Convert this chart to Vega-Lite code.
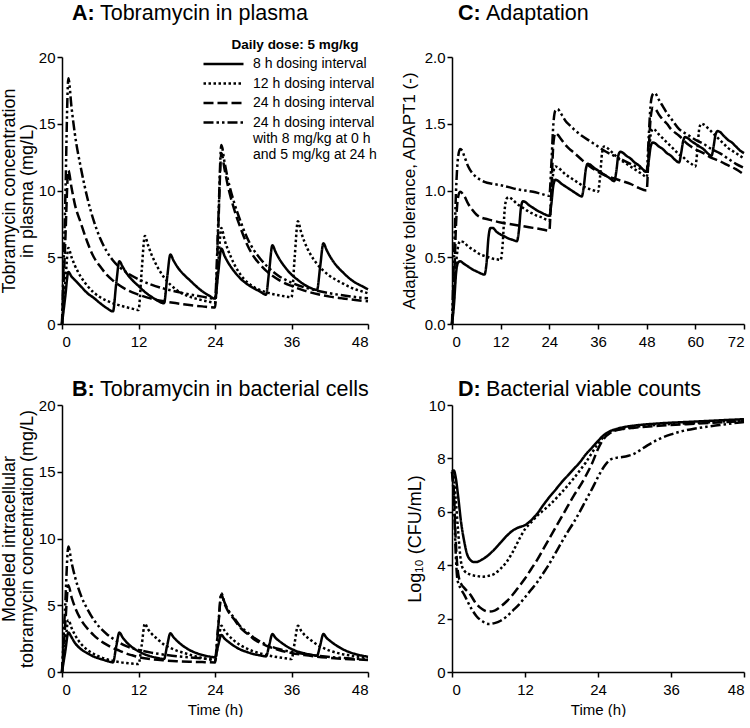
{
"$schema":"https://vega.github.io/schema/vega-lite/v6.json",
"padding":{"left":0,"top":2,"right":0,"bottom":0},
"background":"white",
"columns":2,
"align":"each",
"spacing":{"row":29,"column":23},
"resolve":{"legend":{"strokeDash":"independent"}},
"config":{
 "view":{"stroke":null},
 "font":"Liberation Sans",
 "axis":{"domainColor":"black","tickColor":"black","labelColor":"black","titleColor":"black","grid":false,"labelFont":"Liberation Sans","labelFontSize":15,"titleFont":"Liberation Sans","titleFontWeight":"normal","titleFontSize":18,"titleLineHeight":18,"tickSize":5,"domainWidth":1.5,"tickWidth":1.5,"labelPadding":2,"titlePadding":2},
 "axisX":{"titleFontSize":15,"titlePadding":5,"labelPadding":5},
 "title":{"font":"Liberation Sans","fontSize":21.5,"fontWeight":"bold","color":"black","subtitleColor":"black","subtitleFont":"Liberation Sans","subtitleFontSize":21.5,"subtitleFontWeight":"normal","anchor":"start","frame":"group","subtitlePadding":-21.5},
 "line":{"stroke":"black","strokeWidth":2.5,"interpolate":"monotone"}
},
"datasets":{
"plasma":[
{"s":"q8h","t":0,"v":0},{"s":"q8h","t":0.5,"v":2},{"s":"q8h","t":1,"v":3.9},{"s":"q8h","t":1.5,"v":3.55},{"s":"q8h","t":2,"v":3.3},{"s":"q8h","t":3,"v":2.8},{"s":"q8h","t":4,"v":2.3},{"s":"q8h","t":5,"v":1.95},{"s":"q8h","t":6,"v":1.55},{"s":"q8h","t":7,"v":1.2},{"s":"q8h","t":8,"v":0.95},{"s":"q8h","t":8.5,"v":3},{"s":"q8h","t":9,"v":4.7},{"s":"q8h","t":9.5,"v":4.3},{"s":"q8h","t":10,"v":3.9},{"s":"q8h","t":11,"v":3.3},{"s":"q8h","t":12,"v":2.85},{"s":"q8h","t":13,"v":2.4},{"s":"q8h","t":14,"v":2.05},{"s":"q8h","t":15,"v":1.75},{"s":"q8h","t":16,"v":1.55},{"s":"q8h","t":16.5,"v":3.5},{"s":"q8h","t":17,"v":5.2},{"s":"q8h","t":17.5,"v":4.75},{"s":"q8h","t":18,"v":4.35},{"s":"q8h","t":19,"v":3.75},{"s":"q8h","t":20,"v":3.3},{"s":"q8h","t":21,"v":2.85},{"s":"q8h","t":22,"v":2.45},{"s":"q8h","t":23,"v":2.15},{"s":"q8h","t":24,"v":1.9},{"s":"q8h","t":24.5,"v":3.8},{"s":"q8h","t":25,"v":5.65},{"s":"q8h","t":25.5,"v":5.1},{"s":"q8h","t":26,"v":4.65},{"s":"q8h","t":27,"v":3.95},{"s":"q8h","t":28,"v":3.4},{"s":"q8h","t":29,"v":3.0},{"s":"q8h","t":30,"v":2.7},{"s":"q8h","t":31,"v":2.45},{"s":"q8h","t":32,"v":2.2},{"s":"q8h","t":32.5,"v":4},{"s":"q8h","t":33,"v":5.9},{"s":"q8h","t":33.5,"v":5.4},{"s":"q8h","t":34,"v":4.95},{"s":"q8h","t":35,"v":4.25},{"s":"q8h","t":36,"v":3.7},{"s":"q8h","t":37,"v":3.3},{"s":"q8h","t":38,"v":2.95},{"s":"q8h","t":39,"v":2.7},{"s":"q8h","t":40,"v":2.55},{"s":"q8h","t":40.5,"v":4.3},{"s":"q8h","t":41,"v":6.05},{"s":"q8h","t":41.5,"v":5.55},{"s":"q8h","t":42,"v":5.1},{"s":"q8h","t":43,"v":4.4},{"s":"q8h","t":44,"v":3.9},{"s":"q8h","t":45,"v":3.45},{"s":"q8h","t":46,"v":3.1},{"s":"q8h","t":47,"v":2.85},{"s":"q8h","t":48,"v":2.6},
{"s":"q12h","t":0,"v":0},{"s":"q12h","t":0.5,"v":3},{"s":"q12h","t":1,"v":5.7},{"s":"q12h","t":1.5,"v":5.0},{"s":"q12h","t":2,"v":4.4},{"s":"q12h","t":3,"v":3.5},{"s":"q12h","t":4,"v":2.85},{"s":"q12h","t":5,"v":2.35},{"s":"q12h","t":6,"v":2.0},{"s":"q12h","t":7,"v":1.75},{"s":"q12h","t":8,"v":1.55},{"s":"q12h","t":9,"v":1.4},{"s":"q12h","t":10,"v":1.27},{"s":"q12h","t":11,"v":1.15},{"s":"q12h","t":12,"v":1.05},{"s":"q12h","t":12.5,"v":4},{"s":"q12h","t":13,"v":6.6},{"s":"q12h","t":13.5,"v":5.9},{"s":"q12h","t":14,"v":5.25},{"s":"q12h","t":15,"v":4.25},{"s":"q12h","t":16,"v":3.5},{"s":"q12h","t":17,"v":2.95},{"s":"q12h","t":18,"v":2.55},{"s":"q12h","t":19,"v":2.25},{"s":"q12h","t":20,"v":2.05},{"s":"q12h","t":21,"v":1.9},{"s":"q12h","t":22,"v":1.78},{"s":"q12h","t":23,"v":1.68},{"s":"q12h","t":24,"v":1.6},{"s":"q12h","t":24.5,"v":4.5},{"s":"q12h","t":25,"v":7.2},{"s":"q12h","t":25.5,"v":6.3},{"s":"q12h","t":26,"v":5.6},{"s":"q12h","t":27,"v":4.5},{"s":"q12h","t":28,"v":3.7},{"s":"q12h","t":29,"v":3.15},{"s":"q12h","t":30,"v":2.8},{"s":"q12h","t":31,"v":2.55},{"s":"q12h","t":32,"v":2.38},{"s":"q12h","t":33,"v":2.25},{"s":"q12h","t":34,"v":2.15},{"s":"q12h","t":35,"v":2.07},{"s":"q12h","t":36,"v":2.0},{"s":"q12h","t":36.5,"v":5},{"s":"q12h","t":37,"v":7.7},{"s":"q12h","t":37.5,"v":6.9},{"s":"q12h","t":38,"v":6.2},{"s":"q12h","t":39,"v":5.2},{"s":"q12h","t":40,"v":4.5},{"s":"q12h","t":41,"v":4.0},{"s":"q12h","t":42,"v":3.6},{"s":"q12h","t":43,"v":3.3},{"s":"q12h","t":44,"v":3.05},{"s":"q12h","t":45,"v":2.8},{"s":"q12h","t":46,"v":2.6},{"s":"q12h","t":47,"v":2.45},{"s":"q12h","t":48,"v":2.3},
{"s":"q24h","t":0,"v":0},{"s":"q24h","t":0.5,"v":6},{"s":"q24h","t":1,"v":11.5},{"s":"q24h","t":1.5,"v":10.2},{"s":"q24h","t":2,"v":9.0},{"s":"q24h","t":3,"v":7.5},{"s":"q24h","t":4,"v":6.1},{"s":"q24h","t":5,"v":5.0},{"s":"q24h","t":6,"v":4.3},{"s":"q24h","t":7,"v":3.7},{"s":"q24h","t":8,"v":3.25},{"s":"q24h","t":10,"v":2.6},{"s":"q24h","t":12,"v":2.2},{"s":"q24h","t":14,"v":1.9},{"s":"q24h","t":16,"v":1.7},{"s":"q24h","t":18,"v":1.55},{"s":"q24h","t":20,"v":1.42},{"s":"q24h","t":22,"v":1.32},{"s":"q24h","t":24,"v":1.24},{"s":"q24h","t":24.5,"v":7},{"s":"q24h","t":25,"v":12.8},{"s":"q24h","t":25.5,"v":11.6},{"s":"q24h","t":26,"v":10.4},{"s":"q24h","t":27,"v":8.6},{"s":"q24h","t":28,"v":7.2},{"s":"q24h","t":29,"v":6.0},{"s":"q24h","t":30,"v":5.1},{"s":"q24h","t":31,"v":4.5},{"s":"q24h","t":32,"v":4.0},{"s":"q24h","t":34,"v":3.3},{"s":"q24h","t":36,"v":2.85},{"s":"q24h","t":38,"v":2.5},{"s":"q24h","t":40,"v":2.25},{"s":"q24h","t":42,"v":2.05},{"s":"q24h","t":44,"v":1.92},{"s":"q24h","t":46,"v":1.8},{"s":"q24h","t":48,"v":1.7},
{"s":"q24h85","t":0,"v":0},{"s":"q24h85","t":0.5,"v":9},{"s":"q24h85","t":1,"v":18.4},{"s":"q24h85","t":1.5,"v":16.2},{"s":"q24h85","t":2,"v":14.3},{"s":"q24h85","t":3,"v":11.6},{"s":"q24h85","t":4,"v":9.4},{"s":"q24h85","t":5,"v":7.7},{"s":"q24h85","t":6,"v":6.4},{"s":"q24h85","t":7,"v":5.45},{"s":"q24h85","t":8,"v":4.75},{"s":"q24h85","t":10,"v":3.9},{"s":"q24h85","t":12,"v":3.35},{"s":"q24h85","t":14,"v":2.95},{"s":"q24h85","t":16,"v":2.65},{"s":"q24h85","t":18,"v":2.42},{"s":"q24h85","t":20,"v":2.22},{"s":"q24h85","t":22,"v":2.05},{"s":"q24h85","t":24,"v":1.9},{"s":"q24h85","t":24.5,"v":7.5},{"s":"q24h85","t":25,"v":13.4},{"s":"q24h85","t":25.5,"v":12.1},{"s":"q24h85","t":26,"v":10.9},{"s":"q24h85","t":27,"v":9.1},{"s":"q24h85","t":28,"v":7.7},{"s":"q24h85","t":29,"v":6.5},{"s":"q24h85","t":30,"v":5.6},{"s":"q24h85","t":31,"v":4.95},{"s":"q24h85","t":32,"v":4.4},{"s":"q24h85","t":34,"v":3.6},{"s":"q24h85","t":36,"v":3.1},{"s":"q24h85","t":38,"v":2.75},{"s":"q24h85","t":40,"v":2.5},{"s":"q24h85","t":42,"v":2.3},{"s":"q24h85","t":44,"v":2.15},{"s":"q24h85","t":46,"v":2.02},{"s":"q24h85","t":48,"v":1.92}
],
"cells":[
{"s":"q8h","t":0,"v":0},{"s":"q8h","t":0.5,"v":1.5},{"s":"q8h","t":1,"v":2.95},{"s":"q8h","t":1.5,"v":2.6},{"s":"q8h","t":2,"v":2.2},{"s":"q8h","t":3,"v":1.7},{"s":"q8h","t":4,"v":1.4},{"s":"q8h","t":5,"v":1.15},{"s":"q8h","t":6,"v":0.98},{"s":"q8h","t":7,"v":0.84},{"s":"q8h","t":8,"v":0.72},{"s":"q8h","t":8.5,"v":1.9},{"s":"q8h","t":9,"v":2.95},{"s":"q8h","t":9.5,"v":2.6},{"s":"q8h","t":10,"v":2.3},{"s":"q8h","t":11,"v":1.85},{"s":"q8h","t":12,"v":1.55},{"s":"q8h","t":13,"v":1.32},{"s":"q8h","t":14,"v":1.16},{"s":"q8h","t":15,"v":1.05},{"s":"q8h","t":16,"v":0.97},{"s":"q8h","t":16.5,"v":2.0},{"s":"q8h","t":17,"v":2.9},{"s":"q8h","t":17.5,"v":2.6},{"s":"q8h","t":18,"v":2.35},{"s":"q8h","t":19,"v":1.95},{"s":"q8h","t":20,"v":1.65},{"s":"q8h","t":21,"v":1.43},{"s":"q8h","t":22,"v":1.28},{"s":"q8h","t":23,"v":1.17},{"s":"q8h","t":24,"v":1.1},{"s":"q8h","t":24.5,"v":2.0},{"s":"q8h","t":25,"v":2.78},{"s":"q8h","t":25.5,"v":2.5},{"s":"q8h","t":26,"v":2.3},{"s":"q8h","t":27,"v":1.95},{"s":"q8h","t":28,"v":1.68},{"s":"q8h","t":29,"v":1.5},{"s":"q8h","t":30,"v":1.35},{"s":"q8h","t":31,"v":1.25},{"s":"q8h","t":32,"v":1.17},{"s":"q8h","t":32.5,"v":2.0},{"s":"q8h","t":33,"v":2.84},{"s":"q8h","t":33.5,"v":2.55},{"s":"q8h","t":34,"v":2.35},{"s":"q8h","t":35,"v":2.0},{"s":"q8h","t":36,"v":1.72},{"s":"q8h","t":37,"v":1.53},{"s":"q8h","t":38,"v":1.4},{"s":"q8h","t":39,"v":1.3},{"s":"q8h","t":40,"v":1.22},{"s":"q8h","t":40.5,"v":2.0},{"s":"q8h","t":41,"v":2.84},{"s":"q8h","t":41.5,"v":2.55},{"s":"q8h","t":42,"v":2.35},{"s":"q8h","t":43,"v":2.0},{"s":"q8h","t":44,"v":1.72},{"s":"q8h","t":45,"v":1.5},{"s":"q8h","t":46,"v":1.35},{"s":"q8h","t":47,"v":1.23},{"s":"q8h","t":48,"v":1.15},
{"s":"q12h","t":0,"v":0},{"s":"q12h","t":0.5,"v":2},{"s":"q12h","t":1,"v":3.9},{"s":"q12h","t":1.5,"v":3.3},{"s":"q12h","t":2,"v":2.8},{"s":"q12h","t":3,"v":2.1},{"s":"q12h","t":4,"v":1.65},{"s":"q12h","t":5,"v":1.35},{"s":"q12h","t":6,"v":1.12},{"s":"q12h","t":7,"v":0.95},{"s":"q12h","t":8,"v":0.83},{"s":"q12h","t":9,"v":0.74},{"s":"q12h","t":10,"v":0.68},{"s":"q12h","t":11,"v":0.63},{"s":"q12h","t":12,"v":0.6},{"s":"q12h","t":12.5,"v":2},{"s":"q12h","t":13,"v":3.63},{"s":"q12h","t":13.5,"v":3.2},{"s":"q12h","t":14,"v":2.9},{"s":"q12h","t":15,"v":2.45},{"s":"q12h","t":16,"v":2.05},{"s":"q12h","t":17,"v":1.8},{"s":"q12h","t":18,"v":1.6},{"s":"q12h","t":19,"v":1.45},{"s":"q12h","t":20,"v":1.3},{"s":"q12h","t":21,"v":1.17},{"s":"q12h","t":22,"v":1.05},{"s":"q12h","t":23,"v":0.95},{"s":"q12h","t":24,"v":0.88},{"s":"q12h","t":24.5,"v":2.2},{"s":"q12h","t":25,"v":3.46},{"s":"q12h","t":25.5,"v":3.1},{"s":"q12h","t":26,"v":2.8},{"s":"q12h","t":27,"v":2.35},{"s":"q12h","t":28,"v":2.0},{"s":"q12h","t":29,"v":1.75},{"s":"q12h","t":30,"v":1.55},{"s":"q12h","t":31,"v":1.4},{"s":"q12h","t":32,"v":1.28},{"s":"q12h","t":33,"v":1.18},{"s":"q12h","t":34,"v":1.1},{"s":"q12h","t":35,"v":1.03},{"s":"q12h","t":36,"v":0.97},{"s":"q12h","t":36.5,"v":2.2},{"s":"q12h","t":37,"v":3.46},{"s":"q12h","t":37.5,"v":3.1},{"s":"q12h","t":38,"v":2.8},{"s":"q12h","t":39,"v":2.4},{"s":"q12h","t":40,"v":2.05},{"s":"q12h","t":41,"v":1.8},{"s":"q12h","t":42,"v":1.6},{"s":"q12h","t":43,"v":1.45},{"s":"q12h","t":44,"v":1.33},{"s":"q12h","t":45,"v":1.25},{"s":"q12h","t":46,"v":1.18},{"s":"q12h","t":47,"v":1.13},{"s":"q12h","t":48,"v":1.1},
{"s":"q24h","t":0,"v":0},{"s":"q24h","t":0.5,"v":3.5},{"s":"q24h","t":1,"v":6.5},{"s":"q24h","t":1.5,"v":5.6},{"s":"q24h","t":2,"v":4.9},{"s":"q24h","t":3,"v":3.9},{"s":"q24h","t":4,"v":3.25},{"s":"q24h","t":5,"v":2.75},{"s":"q24h","t":6,"v":2.35},{"s":"q24h","t":7,"v":2.05},{"s":"q24h","t":8,"v":1.8},{"s":"q24h","t":9,"v":1.6},{"s":"q24h","t":10,"v":1.4},{"s":"q24h","t":11,"v":1.25},{"s":"q24h","t":12,"v":1.12},{"s":"q24h","t":14,"v":0.96},{"s":"q24h","t":16,"v":0.87},{"s":"q24h","t":18,"v":0.81},{"s":"q24h","t":20,"v":0.77},{"s":"q24h","t":22,"v":0.74},{"s":"q24h","t":24,"v":0.72},{"s":"q24h","t":24.5,"v":3.3},{"s":"q24h","t":25,"v":5.8},{"s":"q24h","t":25.5,"v":5.1},{"s":"q24h","t":26,"v":4.6},{"s":"q24h","t":27,"v":3.95},{"s":"q24h","t":28,"v":3.3},{"s":"q24h","t":29,"v":2.9},{"s":"q24h","t":30,"v":2.5},{"s":"q24h","t":31,"v":2.2},{"s":"q24h","t":32,"v":1.98},{"s":"q24h","t":33,"v":1.8},{"s":"q24h","t":34,"v":1.65},{"s":"q24h","t":36,"v":1.42},{"s":"q24h","t":38,"v":1.27},{"s":"q24h","t":40,"v":1.15},{"s":"q24h","t":42,"v":1.06},{"s":"q24h","t":44,"v":0.99},{"s":"q24h","t":46,"v":0.94},{"s":"q24h","t":48,"v":0.9},
{"s":"q24h85","t":0,"v":0},{"s":"q24h85","t":0.5,"v":5},{"s":"q24h85","t":1,"v":9.4},{"s":"q24h85","t":1.5,"v":8.2},{"s":"q24h85","t":2,"v":7.2},{"s":"q24h85","t":3,"v":5.7},{"s":"q24h85","t":4,"v":4.7},{"s":"q24h85","t":5,"v":3.9},{"s":"q24h85","t":6,"v":3.3},{"s":"q24h85","t":7,"v":2.85},{"s":"q24h85","t":8,"v":2.5},{"s":"q24h85","t":9,"v":2.2},{"s":"q24h85","t":10,"v":1.95},{"s":"q24h85","t":11,"v":1.78},{"s":"q24h85","t":12,"v":1.65},{"s":"q24h85","t":14,"v":1.45},{"s":"q24h85","t":16,"v":1.3},{"s":"q24h85","t":18,"v":1.18},{"s":"q24h85","t":20,"v":1.1},{"s":"q24h85","t":22,"v":1.02},{"s":"q24h85","t":24,"v":0.97},{"s":"q24h85","t":24.5,"v":3.4},{"s":"q24h85","t":25,"v":5.9},{"s":"q24h85","t":25.5,"v":5.2},{"s":"q24h85","t":26,"v":4.7},{"s":"q24h85","t":27,"v":4.05},{"s":"q24h85","t":28,"v":3.4},{"s":"q24h85","t":29,"v":3.0},{"s":"q24h85","t":30,"v":2.6},{"s":"q24h85","t":31,"v":2.3},{"s":"q24h85","t":32,"v":2.06},{"s":"q24h85","t":33,"v":1.88},{"s":"q24h85","t":34,"v":1.73},{"s":"q24h85","t":36,"v":1.5},{"s":"q24h85","t":38,"v":1.34},{"s":"q24h85","t":40,"v":1.22},{"s":"q24h85","t":42,"v":1.12},{"s":"q24h85","t":44,"v":1.05},{"s":"q24h85","t":46,"v":0.99},{"s":"q24h85","t":48,"v":0.95}
],
"adapt":[
{"s":"q8h","t":0,"v":0},{"s":"q8h","t":0.5,"v":0.15},{"s":"q8h","t":1,"v":0.38},{"s":"q8h","t":1.5,"v":0.46},{"s":"q8h","t":2,"v":0.47},{"s":"q8h","t":3,"v":0.45},{"s":"q8h","t":4,"v":0.43},{"s":"q8h","t":5,"v":0.41},{"s":"q8h","t":6,"v":0.395},{"s":"q8h","t":7,"v":0.38},{"s":"q8h","t":8,"v":0.37},{"s":"q8h","t":8.5,"v":0.45},{"s":"q8h","t":9,"v":0.65},{"s":"q8h","t":9.5,"v":0.72},{"s":"q8h","t":10,"v":0.72},{"s":"q8h","t":11,"v":0.69},{"s":"q8h","t":12,"v":0.67},{"s":"q8h","t":13,"v":0.655},{"s":"q8h","t":14,"v":0.64},{"s":"q8h","t":15,"v":0.63},{"s":"q8h","t":16,"v":0.62},{"s":"q8h","t":16.5,"v":0.7},{"s":"q8h","t":17,"v":0.87},{"s":"q8h","t":17.5,"v":0.92},{"s":"q8h","t":18,"v":0.915},{"s":"q8h","t":19,"v":0.89},{"s":"q8h","t":20,"v":0.87},{"s":"q8h","t":21,"v":0.85},{"s":"q8h","t":22,"v":0.835},{"s":"q8h","t":23,"v":0.82},{"s":"q8h","t":24,"v":0.81},{"s":"q8h","t":24.5,"v":0.9},{"s":"q8h","t":25,"v":1.04},{"s":"q8h","t":25.5,"v":1.08},{"s":"q8h","t":26,"v":1.075},{"s":"q8h","t":27,"v":1.05},{"s":"q8h","t":28,"v":1.03},{"s":"q8h","t":29,"v":1.01},{"s":"q8h","t":30,"v":0.99},{"s":"q8h","t":31,"v":0.97},{"s":"q8h","t":32,"v":0.955},{"s":"q8h","t":32.5,"v":1.03},{"s":"q8h","t":33,"v":1.16},{"s":"q8h","t":33.5,"v":1.2},{"s":"q8h","t":34,"v":1.195},{"s":"q8h","t":35,"v":1.17},{"s":"q8h","t":36,"v":1.15},{"s":"q8h","t":37,"v":1.13},{"s":"q8h","t":38,"v":1.11},{"s":"q8h","t":39,"v":1.09},{"s":"q8h","t":40,"v":1.07},{"s":"q8h","t":40.5,"v":1.14},{"s":"q8h","t":41,"v":1.26},{"s":"q8h","t":41.5,"v":1.29},{"s":"q8h","t":42,"v":1.285},{"s":"q8h","t":43,"v":1.26},{"s":"q8h","t":44,"v":1.24},{"s":"q8h","t":45,"v":1.21},{"s":"q8h","t":46,"v":1.19},{"s":"q8h","t":47,"v":1.16},{"s":"q8h","t":48,"v":1.14},{"s":"q8h","t":48.5,"v":1.22},{"s":"q8h","t":49,"v":1.33},{"s":"q8h","t":49.5,"v":1.36},{"s":"q8h","t":50,"v":1.355},{"s":"q8h","t":51,"v":1.33},{"s":"q8h","t":52,"v":1.31},{"s":"q8h","t":53,"v":1.28},{"s":"q8h","t":54,"v":1.26},{"s":"q8h","t":55,"v":1.23},{"s":"q8h","t":56,"v":1.21},{"s":"q8h","t":56.5,"v":1.28},{"s":"q8h","t":57,"v":1.37},{"s":"q8h","t":57.5,"v":1.4},{"s":"q8h","t":58,"v":1.395},{"s":"q8h","t":59,"v":1.37},{"s":"q8h","t":60,"v":1.35},{"s":"q8h","t":61,"v":1.33},{"s":"q8h","t":62,"v":1.31},{"s":"q8h","t":63,"v":1.28},{"s":"q8h","t":64,"v":1.26},{"s":"q8h","t":64.5,"v":1.33},{"s":"q8h","t":65,"v":1.42},{"s":"q8h","t":65.5,"v":1.445},{"s":"q8h","t":66,"v":1.44},{"s":"q8h","t":67,"v":1.41},{"s":"q8h","t":68,"v":1.38},{"s":"q8h","t":69,"v":1.36},{"s":"q8h","t":70,"v":1.33},{"s":"q8h","t":71,"v":1.3},{"s":"q8h","t":72,"v":1.28},
{"s":"q12h","t":0,"v":0},{"s":"q12h","t":0.5,"v":0.2},{"s":"q12h","t":1,"v":0.45},{"s":"q12h","t":1.5,"v":0.58},{"s":"q12h","t":2,"v":0.62},{"s":"q12h","t":3,"v":0.61},{"s":"q12h","t":4,"v":0.58},{"s":"q12h","t":5,"v":0.56},{"s":"q12h","t":6,"v":0.54},{"s":"q12h","t":7,"v":0.52},{"s":"q12h","t":8,"v":0.51},{"s":"q12h","t":9,"v":0.5},{"s":"q12h","t":10,"v":0.49},{"s":"q12h","t":11,"v":0.485},{"s":"q12h","t":12,"v":0.48},{"s":"q12h","t":12.5,"v":0.6},{"s":"q12h","t":13,"v":0.86},{"s":"q12h","t":13.5,"v":0.94},{"s":"q12h","t":14,"v":0.95},{"s":"q12h","t":15,"v":0.93},{"s":"q12h","t":16,"v":0.9},{"s":"q12h","t":17,"v":0.88},{"s":"q12h","t":18,"v":0.86},{"s":"q12h","t":19,"v":0.84},{"s":"q12h","t":20,"v":0.825},{"s":"q12h","t":21,"v":0.81},{"s":"q12h","t":22,"v":0.8},{"s":"q12h","t":23,"v":0.785},{"s":"q12h","t":24,"v":0.775},{"s":"q12h","t":24.5,"v":0.95},{"s":"q12h","t":25,"v":1.14},{"s":"q12h","t":25.5,"v":1.18},{"s":"q12h","t":26,"v":1.175},{"s":"q12h","t":27,"v":1.15},{"s":"q12h","t":28,"v":1.12},{"s":"q12h","t":29,"v":1.1},{"s":"q12h","t":30,"v":1.08},{"s":"q12h","t":31,"v":1.06},{"s":"q12h","t":32,"v":1.04},{"s":"q12h","t":33,"v":1.02},{"s":"q12h","t":34,"v":1.01},{"s":"q12h","t":35,"v":1.0},{"s":"q12h","t":36,"v":0.99},{"s":"q12h","t":36.5,"v":1.1},{"s":"q12h","t":37,"v":1.28},{"s":"q12h","t":37.5,"v":1.33},{"s":"q12h","t":38,"v":1.325},{"s":"q12h","t":39,"v":1.3},{"s":"q12h","t":40,"v":1.27},{"s":"q12h","t":41,"v":1.24},{"s":"q12h","t":42,"v":1.22},{"s":"q12h","t":43,"v":1.2},{"s":"q12h","t":44,"v":1.18},{"s":"q12h","t":45,"v":1.16},{"s":"q12h","t":46,"v":1.14},{"s":"q12h","t":47,"v":1.12},{"s":"q12h","t":48,"v":1.1},{"s":"q12h","t":48.5,"v":1.25},{"s":"q12h","t":49,"v":1.42},{"s":"q12h","t":49.5,"v":1.46},{"s":"q12h","t":50,"v":1.455},{"s":"q12h","t":51,"v":1.42},{"s":"q12h","t":52,"v":1.39},{"s":"q12h","t":53,"v":1.36},{"s":"q12h","t":54,"v":1.33},{"s":"q12h","t":55,"v":1.3},{"s":"q12h","t":56,"v":1.27},{"s":"q12h","t":57,"v":1.25},{"s":"q12h","t":58,"v":1.22},{"s":"q12h","t":59,"v":1.2},{"s":"q12h","t":60,"v":1.18},{"s":"q12h","t":60.5,"v":1.3},{"s":"q12h","t":61,"v":1.47},{"s":"q12h","t":61.5,"v":1.5},{"s":"q12h","t":62,"v":1.495},{"s":"q12h","t":63,"v":1.47},{"s":"q12h","t":64,"v":1.44},{"s":"q12h","t":65,"v":1.41},{"s":"q12h","t":66,"v":1.38},{"s":"q12h","t":67,"v":1.35},{"s":"q12h","t":68,"v":1.32},{"s":"q12h","t":69,"v":1.3},{"s":"q12h","t":70,"v":1.28},{"s":"q12h","t":71,"v":1.26},{"s":"q12h","t":72,"v":1.24},
{"s":"q24h","t":0,"v":0},{"s":"q24h","t":0.5,"v":0.3},{"s":"q24h","t":1,"v":0.75},{"s":"q24h","t":1.5,"v":0.95},{"s":"q24h","t":2,"v":0.99},{"s":"q24h","t":3,"v":0.96},{"s":"q24h","t":4,"v":0.9},{"s":"q24h","t":5,"v":0.855},{"s":"q24h","t":6,"v":0.82},{"s":"q24h","t":7,"v":0.8},{"s":"q24h","t":8,"v":0.79},{"s":"q24h","t":10,"v":0.775},{"s":"q24h","t":12,"v":0.76},{"s":"q24h","t":14,"v":0.75},{"s":"q24h","t":16,"v":0.74},{"s":"q24h","t":18,"v":0.73},{"s":"q24h","t":20,"v":0.72},{"s":"q24h","t":22,"v":0.71},{"s":"q24h","t":24,"v":0.7},{"s":"q24h","t":24.5,"v":1.0},{"s":"q24h","t":25,"v":1.35},{"s":"q24h","t":25.5,"v":1.43},{"s":"q24h","t":26,"v":1.42},{"s":"q24h","t":27,"v":1.38},{"s":"q24h","t":28,"v":1.34},{"s":"q24h","t":29,"v":1.31},{"s":"q24h","t":30,"v":1.285},{"s":"q24h","t":32,"v":1.23},{"s":"q24h","t":34,"v":1.18},{"s":"q24h","t":36,"v":1.14},{"s":"q24h","t":38,"v":1.11},{"s":"q24h","t":40,"v":1.09},{"s":"q24h","t":42,"v":1.07},{"s":"q24h","t":44,"v":1.05},{"s":"q24h","t":46,"v":1.02},{"s":"q24h","t":48,"v":1.0},{"s":"q24h","t":48.5,"v":1.3},{"s":"q24h","t":49,"v":1.55},{"s":"q24h","t":49.5,"v":1.62},{"s":"q24h","t":50,"v":1.615},{"s":"q24h","t":51,"v":1.57},{"s":"q24h","t":52,"v":1.53},{"s":"q24h","t":53,"v":1.5},{"s":"q24h","t":54,"v":1.46},{"s":"q24h","t":56,"v":1.41},{"s":"q24h","t":58,"v":1.35},{"s":"q24h","t":60,"v":1.31},{"s":"q24h","t":62,"v":1.28},{"s":"q24h","t":64,"v":1.245},{"s":"q24h","t":66,"v":1.22},{"s":"q24h","t":68,"v":1.19},{"s":"q24h","t":70,"v":1.16},{"s":"q24h","t":72,"v":1.12},
{"s":"q24h85","t":0,"v":0},{"s":"q24h85","t":0.5,"v":0.5},{"s":"q24h85","t":1,"v":1.0},{"s":"q24h85","t":1.5,"v":1.25},{"s":"q24h85","t":2,"v":1.31},{"s":"q24h85","t":2.5,"v":1.3},{"s":"q24h85","t":3,"v":1.26},{"s":"q24h85","t":4,"v":1.18},{"s":"q24h85","t":5,"v":1.13},{"s":"q24h85","t":6,"v":1.1},{"s":"q24h85","t":7,"v":1.08},{"s":"q24h85","t":8,"v":1.065},{"s":"q24h85","t":10,"v":1.05},{"s":"q24h85","t":12,"v":1.04},{"s":"q24h85","t":14,"v":1.025},{"s":"q24h85","t":16,"v":1.01},{"s":"q24h85","t":18,"v":1.0},{"s":"q24h85","t":20,"v":0.99},{"s":"q24h85","t":22,"v":0.975},{"s":"q24h85","t":24,"v":0.96},{"s":"q24h85","t":24.5,"v":1.2},{"s":"q24h85","t":25,"v":1.5},{"s":"q24h85","t":25.5,"v":1.6},{"s":"q24h85","t":26,"v":1.61},{"s":"q24h85","t":27,"v":1.57},{"s":"q24h85","t":28,"v":1.52},{"s":"q24h85","t":29,"v":1.49},{"s":"q24h85","t":30,"v":1.46},{"s":"q24h85","t":32,"v":1.41},{"s":"q24h85","t":34,"v":1.37},{"s":"q24h85","t":36,"v":1.33},{"s":"q24h85","t":38,"v":1.29},{"s":"q24h85","t":40,"v":1.26},{"s":"q24h85","t":42,"v":1.23},{"s":"q24h85","t":44,"v":1.2},{"s":"q24h85","t":46,"v":1.17},{"s":"q24h85","t":48,"v":1.14},{"s":"q24h85","t":48.5,"v":1.4},{"s":"q24h85","t":49,"v":1.65},{"s":"q24h85","t":49.5,"v":1.72},{"s":"q24h85","t":50,"v":1.73},{"s":"q24h85","t":51,"v":1.68},{"s":"q24h85","t":52,"v":1.63},{"s":"q24h85","t":53,"v":1.58},{"s":"q24h85","t":54,"v":1.54},{"s":"q24h85","t":56,"v":1.46},{"s":"q24h85","t":58,"v":1.42},{"s":"q24h85","t":60,"v":1.38},{"s":"q24h85","t":62,"v":1.35},{"s":"q24h85","t":64,"v":1.31},{"s":"q24h85","t":66,"v":1.28},{"s":"q24h85","t":68,"v":1.24},{"s":"q24h85","t":70,"v":1.2},{"s":"q24h85","t":72,"v":1.17}
],
"counts":[
{"s":"q8h","t":0,"v":7.5},{"s":"q8h","t":0.3,"v":7.55},{"s":"q8h","t":0.6,"v":7.3},{"s":"q8h","t":1,"v":6.6},{"s":"q8h","t":1.5,"v":5.6},{"s":"q8h","t":2,"v":4.9},{"s":"q8h","t":2.5,"v":4.4},{"s":"q8h","t":3,"v":4.2},{"s":"q8h","t":3.6,"v":4.12},{"s":"q8h","t":4,"v":4.12},{"s":"q8h","t":5,"v":4.22},{"s":"q8h","t":6,"v":4.38},{"s":"q8h","t":7,"v":4.6},{"s":"q8h","t":8,"v":4.85},{"s":"q8h","t":9,"v":5.1},{"s":"q8h","t":10,"v":5.3},{"s":"q8h","t":11,"v":5.42},{"s":"q8h","t":12,"v":5.5},{"s":"q8h","t":13,"v":5.68},{"s":"q8h","t":14,"v":5.93},{"s":"q8h","t":15,"v":6.25},{"s":"q8h","t":16,"v":6.55},{"s":"q8h","t":17,"v":6.82},{"s":"q8h","t":18,"v":7.1},{"s":"q8h","t":19,"v":7.35},{"s":"q8h","t":20,"v":7.6},{"s":"q8h","t":21,"v":7.85},{"s":"q8h","t":22,"v":8.15},{"s":"q8h","t":23,"v":8.4},{"s":"q8h","t":24,"v":8.65},{"s":"q8h","t":25,"v":8.88},{"s":"q8h","t":26,"v":9.02},{"s":"q8h","t":27,"v":9.1},{"s":"q8h","t":28,"v":9.16},{"s":"q8h","t":30,"v":9.23},{"s":"q8h","t":34,"v":9.31},{"s":"q8h","t":40,"v":9.38},{"s":"q8h","t":48,"v":9.47},
{"s":"q12h","t":0,"v":7.5},{"s":"q12h","t":0.3,"v":7.3},{"s":"q12h","t":0.6,"v":6.5},{"s":"q12h","t":1,"v":5.3},{"s":"q12h","t":1.5,"v":4.1},{"s":"q12h","t":2,"v":3.8},{"s":"q12h","t":3,"v":3.65},{"s":"q12h","t":4,"v":3.6},{"s":"q12h","t":5,"v":3.57},{"s":"q12h","t":6,"v":3.6},{"s":"q12h","t":7,"v":3.68},{"s":"q12h","t":8,"v":3.87},{"s":"q12h","t":9,"v":4.13},{"s":"q12h","t":10,"v":4.5},{"s":"q12h","t":11,"v":4.95},{"s":"q12h","t":12,"v":5.35},{"s":"q12h","t":13,"v":5.6},{"s":"q12h","t":14,"v":5.85},{"s":"q12h","t":15,"v":6.05},{"s":"q12h","t":16,"v":6.25},{"s":"q12h","t":18,"v":6.72},{"s":"q12h","t":20,"v":7.25},{"s":"q12h","t":22,"v":7.85},{"s":"q12h","t":24,"v":8.55},{"s":"q12h","t":25,"v":8.82},{"s":"q12h","t":26,"v":8.98},{"s":"q12h","t":28,"v":9.12},{"s":"q12h","t":30,"v":9.18},{"s":"q12h","t":34,"v":9.26},{"s":"q12h","t":40,"v":9.33},{"s":"q12h","t":48,"v":9.42},
{"s":"q24h","t":0,"v":7.5},{"s":"q24h","t":0.3,"v":6.8},{"s":"q24h","t":0.6,"v":5.0},{"s":"q24h","t":1,"v":3.7},{"s":"q24h","t":1.5,"v":3.3},{"s":"q24h","t":2,"v":3.15},{"s":"q24h","t":3,"v":2.9},{"s":"q24h","t":4,"v":2.55},{"s":"q24h","t":5,"v":2.35},{"s":"q24h","t":6,"v":2.26},{"s":"q24h","t":7,"v":2.3},{"s":"q24h","t":8,"v":2.45},{"s":"q24h","t":9,"v":2.65},{"s":"q24h","t":10,"v":2.9},{"s":"q24h","t":11,"v":3.2},{"s":"q24h","t":12,"v":3.5},{"s":"q24h","t":13,"v":3.85},{"s":"q24h","t":14,"v":4.2},{"s":"q24h","t":15,"v":4.6},{"s":"q24h","t":16,"v":5.0},{"s":"q24h","t":17,"v":5.4},{"s":"q24h","t":18,"v":5.8},{"s":"q24h","t":19,"v":6.2},{"s":"q24h","t":20,"v":6.6},{"s":"q24h","t":21,"v":6.95},{"s":"q24h","t":22,"v":7.35},{"s":"q24h","t":23,"v":7.8},{"s":"q24h","t":24,"v":8.35},{"s":"q24h","t":25,"v":8.75},{"s":"q24h","t":26,"v":8.95},{"s":"q24h","t":27,"v":9.05},{"s":"q24h","t":28,"v":9.1},{"s":"q24h","t":30,"v":9.15},{"s":"q24h","t":34,"v":9.22},{"s":"q24h","t":40,"v":9.3},{"s":"q24h","t":48,"v":9.4},
{"s":"q24h85","t":0,"v":7.5},{"s":"q24h85","t":0.3,"v":6.5},{"s":"q24h85","t":0.6,"v":4.5},{"s":"q24h85","t":0.9,"v":3.45},{"s":"q24h85","t":1.5,"v":3.1},{"s":"q24h85","t":2,"v":2.9},{"s":"q24h85","t":3,"v":2.45},{"s":"q24h85","t":4,"v":2.1},{"s":"q24h85","t":5,"v":1.9},{"s":"q24h85","t":6,"v":1.8},{"s":"q24h85","t":7,"v":1.83},{"s":"q24h85","t":8,"v":1.92},{"s":"q24h85","t":9,"v":2.08},{"s":"q24h85","t":10,"v":2.3},{"s":"q24h85","t":11,"v":2.52},{"s":"q24h85","t":12,"v":2.8},{"s":"q24h85","t":13,"v":3.08},{"s":"q24h85","t":14,"v":3.36},{"s":"q24h85","t":15,"v":3.7},{"s":"q24h85","t":16,"v":4.05},{"s":"q24h85","t":17,"v":4.45},{"s":"q24h85","t":18,"v":4.85},{"s":"q24h85","t":19,"v":5.24},{"s":"q24h85","t":20,"v":5.6},{"s":"q24h85","t":21,"v":6.0},{"s":"q24h85","t":22,"v":6.43},{"s":"q24h85","t":23,"v":6.85},{"s":"q24h85","t":24,"v":7.3},{"s":"q24h85","t":25,"v":7.7},{"s":"q24h85","t":26,"v":7.95},{"s":"q24h85","t":27,"v":8.02},{"s":"q24h85","t":28,"v":8.05},{"s":"q24h85","t":29,"v":8.1},{"s":"q24h85","t":30,"v":8.18},{"s":"q24h85","t":31,"v":8.32},{"s":"q24h85","t":32,"v":8.47},{"s":"q24h85","t":33,"v":8.6},{"s":"q24h85","t":34,"v":8.72},{"s":"q24h85","t":36,"v":8.9},{"s":"q24h85","t":38,"v":9.03},{"s":"q24h85","t":40,"v":9.12},{"s":"q24h85","t":42,"v":9.19},{"s":"q24h85","t":44,"v":9.25},{"s":"q24h85","t":46,"v":9.31},{"s":"q24h85","t":48,"v":9.36}
]
},
"concat":[
{
 "width":306,"height":267,
 "title":{"text":"A:","subtitle":"\u2800\u00a0 Tobramycin in plasma","dx":10,"offset":14},
 "data":{"name":"plasma"},
 "mark":{"type":"line"},
 "encoding":{
  "x":{"field":"t","type":"quantitative","scale":{"domain":[0,48]},"axis":{"values":[0,12,24,36,48],"title":null}},
  "y":{"field":"v","type":"quantitative","scale":{"domain":[0,20]},"axis":{"values":[0,5,10,15,20],"title":["Tobramycin concentration","in plasma (mg/L)"]}},
  "strokeDash":{"field":"s","type":"nominal","scale":{"domain":["q8h","q12h","q24h","q24h85"],"range":[[1,0],[2.5,2.5],[10,4],[10,3,2.5,3,2.5,3]]},
   "legend":{"orient":"none","legendX":152,"legendY":-19,"padding":0,"title":"Daily dose: 5 mg/kg","titleFont":"Liberation Sans","titleFontWeight":"bold","titleFontSize":13.5,"titleColor":"black","titleAnchor":"middle","titlePadding":3,"labelFont":"Liberation Sans","labelFontSize":14,"labelColor":"black","labelOffset":20,"labelLimit":300,"symbolType":"M-2.5,0H2.5","symbolSize":256,"symbolStrokeWidth":2.5,"symbolStrokeColor":"black","rowPadding":2.5,
    "labelExpr":"datum.value == 'q8h' ? '8 h dosing interval' : datum.value == 'q12h' ? '12 h dosing interval' : datum.value == 'q24h' ? '24 h dosing interval' : ['24 h dosing interval','with 8 mg/kg at 0 h','and 5 mg/kg at 24 h']"}}
 }
},
{
 "width":292,"height":267,
 "title":{"text":"C:","subtitle":"\u2800\u00a0 Adaptation","dx":6,"offset":26},
 "data":{"name":"adapt"},
 "mark":{"type":"line"},
 "encoding":{
  "x":{"field":"t","type":"quantitative","scale":{"domain":[0,72]},"axis":{"values":[0,12,24,36,48,60,72],"title":null}},
  "y":{"field":"v","type":"quantitative","scale":{"domain":[0,2]},"axis":{"values":[0,0.5,1,1.5,2],"format":".1f","title":"Adaptive tolerance, ADAPT1 (-)","titleFontSize":17,"titlePadding":6}},
  "strokeDash":{"field":"s","type":"nominal","scale":{"domain":["q8h","q12h","q24h","q24h85"],"range":[[1,0],[2.5,2.5],[10,4],[10,3,2.5,3,2.5,3]]},"legend":null}
 }
},
{
 "width":306,"height":267,
 "title":{"text":"B:","subtitle":"\u2800\u00a0 Tobramycin in bacterial cells","dx":10,"offset":-2},
 "data":{"name":"cells"},
 "mark":{"type":"line"},
 "encoding":{
  "x":{"field":"t","type":"quantitative","scale":{"domain":[0,48]},"axis":{"values":[0,12,24,36,48],"title":"Time (h)"}},
  "y":{"field":"v","type":"quantitative","scale":{"domain":[0,20]},"axis":{"values":[0,5,10,15,20],"title":["Modeled intracellular","tobramycin concentration (mg/L)"]}},
  "strokeDash":{"field":"s","type":"nominal","scale":{"domain":["q8h","q12h","q24h","q24h85"],"range":[[1,0],[2.5,2.5],[10,4],[10,3,2.5,3,2.5,3]]},"legend":null}
 }
},
{
 "width":292,"height":267,
 "title":{"text":"D:","subtitle":"\u2800\u00a0 Bacterial viable counts","dx":6,"offset":-2},
 "data":{"name":"counts"},
 "mark":{"type":"line"},
 "encoding":{
  "x":{"field":"t","type":"quantitative","scale":{"domain":[0,48]},"axis":{"values":[0,12,24,36,48],"title":"Time (h)"}},
  "y":{"field":"v","type":"quantitative","scale":{"domain":[0,10]},"axis":{"values":[0,2,4,6,8,10],"title":"Log\u2081\u2080 (CFU/mL)","titlePadding":4}},
  "strokeDash":{"field":"s","type":"nominal","scale":{"domain":["q8h","q12h","q24h","q24h85"],"range":[[1,0],[2.5,2.5],[10,4],[10,3,2.5,3,2.5,3]]},"legend":null}
 }
}
]
}
